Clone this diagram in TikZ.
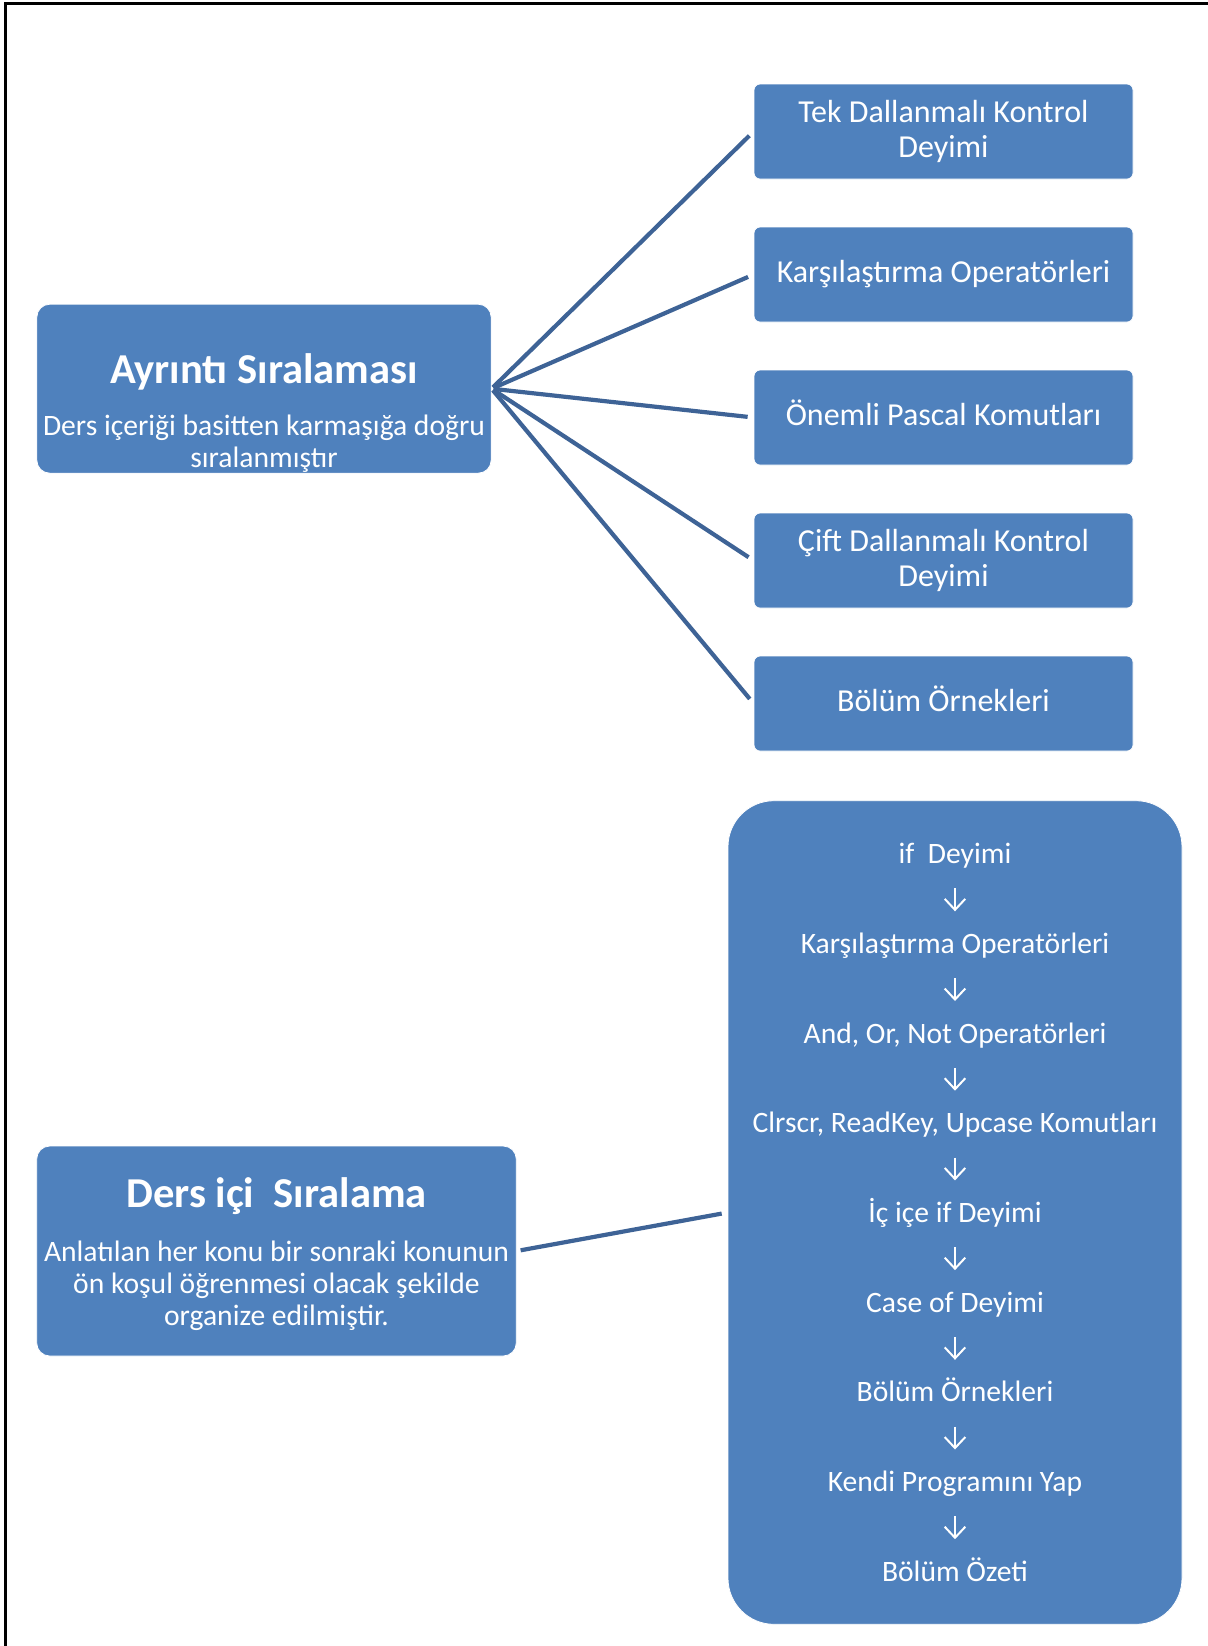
\documentclass[tikz,border=0pt]{standalone}
\usepackage{fontspec}
\setmainfont{Carlito}
\usepackage{tikz}
\usetikzlibrary{arrows.meta,positioning}
\definecolor{kutumavi}{HTML}{4F81BD}
\definecolor{cizgimavi}{HTML}{3E6396}

\begin{document}
\begin{tikzpicture}[x=0.5pt,y=-0.5pt,>={Straight Barb[length=5.5pt,width=10.3pt]},node distance=23.6pt,
	kutu/.style={fill=kutumavi,draw=white,line width=0.4pt,rounded corners=3pt,minimum width=189.5pt,minimum height=47.5pt,inner sep=0pt,text=white,font=\fontsize{16}{17.3}\selectfont,align=center},
	tekSatir/.style={text height=12pt,text depth=4pt},
	ana/.style={fill=kutumavi,draw=white,line width=0.4pt,rounded corners=6.5pt,inner sep=0pt},
	baslik/.style={text=white,font=\fontsize{21.3}{25}\selectfont\bfseries,inner sep=0pt,anchor=base},
	metin/.style={text=white,font=\fontsize{14.8}{16}\selectfont,inner sep=0pt,align=center,anchor=base},
	madde/.style={text=white,font=\fontsize{14.8}{16}\selectfont,inner sep=0pt,text height=20.8pt,text depth=12.2pt},
	bag/.style={draw=cizgimavi,line width=2.1pt,shorten <=1pt,shorten >=3pt},
	ok/.style={->,draw=white,line width=1pt}]
	\useasboundingbox (0,0) rectangle (1208,1646);
	\draw[line width=1.25pt] (5.5,1646) -- (5.5,3.5) -- (1208,3.5);

	\node[ana,minimum width=227.2pt,minimum height=84.5pt] (ayrinti) at (264,388.7) {};
	\node[baslik] (ayrintiBaslik) at ([yshift=2.75pt]ayrinti.center) {Ayrıntı Sıralaması};
	\node[metin] (ayrintiMetin) at ([yshift=-39.5pt]ayrinti.center) {Ders içeriği basitten karmaşığa doğru\\sıralanmıştır};

	\node[kutu] (tekDal) at (943.5,131.5) {Tek Dallanmalı Kontrol\\Deyimi};
	\node[kutu,tekSatir] [below=of tekDal] (karsOp) {Karşılaştırma Operatörleri};
	\node[kutu,tekSatir] [below=of karsOp] (pascal) {Önemli Pascal Komutları};
	\node[kutu] [below=of pascal] (ciftDal) {Çift Dallanmalı Kontrol\\Deyimi};
	\node[kutu,tekSatir] [below=of ciftDal] (ornek) {Bölüm Örnekleri};

	\path[bag]
	(ayrinti.east) edge (tekDal.west)
	(ayrinti.east) edge (karsOp.west)
	(ayrinti.east) edge (pascal.west)
	(ayrinti.east) edge (ciftDal.west)
	(ayrinti.east) edge (ornek.west);

	\node[ana,minimum width=239.8pt,minimum height=105pt] (dersici) at (276.5,1251) {};
	\node[baslik] (dersiciBaslik) at ([yshift=21.75pt]dersici.center) {Ders içi\ \ Sıralama};
	\node[metin] (dersiciMetin) at ([yshift=-37pt]dersici.center) {Anlatılan her konu bir sonraki konunun\\ön koşul öğrenmesi olacak şekilde\\organize edilmiştir.};

	\node[ana,rounded corners=23pt,minimum width=227pt,minimum height=411.8pt] (liste) at (955,1212.5) {};
	\node[madde] (m1) at (955,855) {if\ \ Deyimi};
	\node[madde] [below=11.45pt of m1] (m2) {Karşılaştırma Operatörleri};
	\node[madde] [below=11.45pt of m2] (m3) {And, Or, Not Operatörleri};
	\node[madde] [below=11.45pt of m3] (m4) {Clrscr, ReadKey, Upcase Komutları};
	\node[madde] [below=11.45pt of m4] (m5) {İç içe if Deyimi};
	\node[madde] [below=11.45pt of m5] (m6) {Case of Deyimi};
	\node[madde] [below=11.45pt of m6] (m7) {Bölüm Örnekleri};
	\node[madde] [below=11.45pt of m7] (m8) {Kendi Programını Yap};
	\node[madde] [below=11.45pt of m8] (m9) {Bölüm Özeti};
	\foreach \a/\b in {m1/m2,m2/m3,m3/m4,m4/m5,m5/m6,m6/m7,m7/m8,m8/m9}
		\draw[ok] (\a) -- (\b);

	\path[bag,shorten <=2pt]
	(dersici.east) edge (liste.west);
\end{tikzpicture}
\end{document}
